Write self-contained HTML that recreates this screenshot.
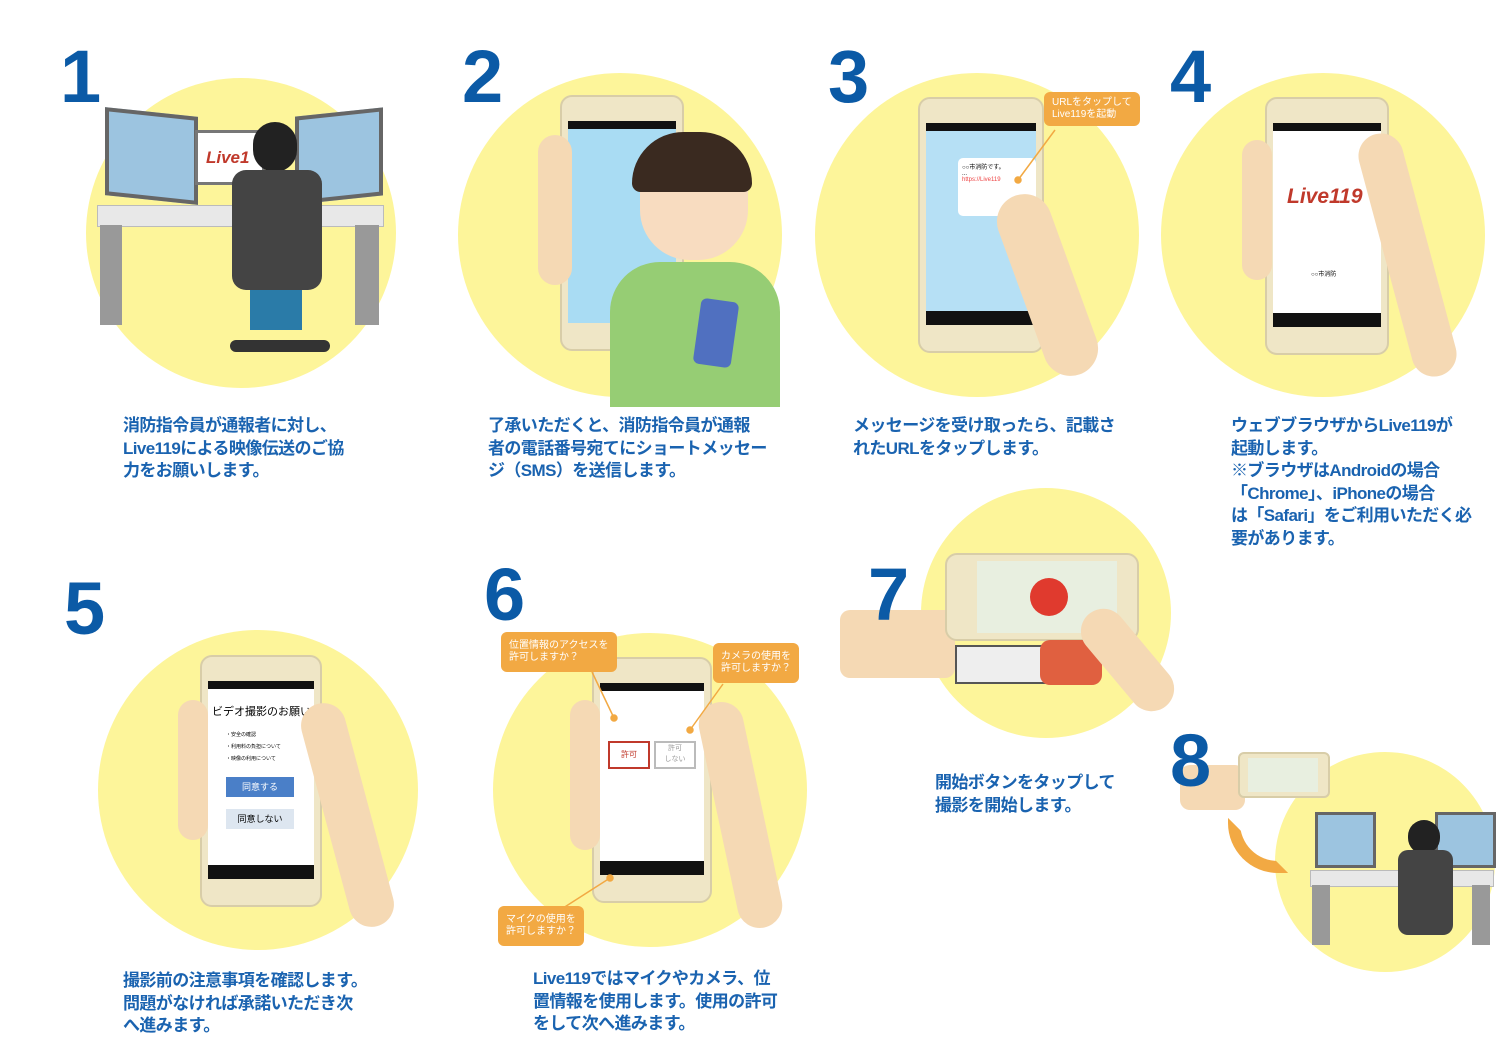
<!DOCTYPE html>
<html><head><meta charset="utf-8">
<style>
body{margin:0;width:1510px;height:1049px;background:#fff;position:relative;overflow:hidden;font-family:"Liberation Sans","Noto Sans CJK JP",sans-serif}
.n{position:absolute;font-weight:bold;color:#0b5aa6;font-size:74px;line-height:1;font-family:"Liberation Sans",sans-serif;z-index:5}
.c{position:absolute;border-radius:50%;background:#fdf59a}
.t{position:absolute;color:#1a63b0;font-weight:bold;font-size:17px;line-height:22.5px;letter-spacing:-0.6px;z-index:5}
.ph{position:absolute;background:#efe6c6;border:2px solid #d8cda8;border-radius:12px}
.sc{position:absolute;left:6px;right:6px;top:24px;bottom:26px;background:#fff}
.sb{position:absolute;left:0;right:0;top:0;height:8px;background:#111}
.nb{position:absolute;left:0;right:0;bottom:0;height:14px;background:#111}
.hand{position:absolute;background:#f5d9b4;border-radius:30px}
.bub{position:absolute;background:#f2a943;color:#fff;font-size:10px;line-height:12px;padding:5px 8px;border-radius:6px;z-index:4}
</style></head><body>
<div class="c" style="left:86px;top:78px;width:310px;height:310px"></div>
<div class="c" style="left:458px;top:73px;width:324px;height:324px"></div>
<div class="c" style="left:815px;top:73px;width:324px;height:324px"></div>
<div class="c" style="left:1161px;top:73px;width:324px;height:324px"></div>
<div class="c" style="left:98px;top:630px;width:320px;height:320px"></div>
<div class="c" style="left:493px;top:633px;width:314px;height:314px"></div>
<div class="c" style="left:921px;top:488px;width:250px;height:250px"></div>
<div class="c" style="left:1275px;top:752px;width:220px;height:220px"></div>

<div class="n" style="left:60px;top:40px">1</div>
<div class="n" style="left:462px;top:40px">2</div>
<div class="n" style="left:828px;top:40px">3</div>
<div class="n" style="left:1170px;top:40px">4</div>
<div class="n" style="left:64px;top:572px">5</div>
<div class="n" style="left:484px;top:558px">6</div>
<div class="n" style="left:868px;top:558px">7</div>
<div class="n" style="left:1170px;top:724px">8</div>

<!-- scene 1 -->
<div style="position:absolute;left:97px;top:205px;width:285px;height:20px;background:#e8e8e8;border:1px solid #bbb"></div>
<div style="position:absolute;left:100px;top:225px;width:22px;height:100px;background:#999"></div>
<div style="position:absolute;left:355px;top:225px;width:24px;height:100px;background:#999"></div>
<div style="position:absolute;left:105px;top:112px;width:85px;height:80px;background:#9cc4e0;border:4px solid #666;transform:skewY(6deg)"></div>
<div style="position:absolute;left:295px;top:112px;width:80px;height:80px;background:#9cc4e0;border:4px solid #666;transform:skewY(-6deg)"></div>
<div style="position:absolute;left:195px;top:130px;width:70px;height:55px;background:#fff;border:3px solid #777;color:#c0392b;font-weight:bold;font-style:italic;font-size:17px;padding:15px 0 0 8px;box-sizing:border-box">Live1</div>
<div style="position:absolute;left:253px;top:122px;width:44px;height:50px;background:#222;border-radius:22px"></div>
<div style="position:absolute;left:232px;top:170px;width:90px;height:120px;background:#444;border-radius:14px"></div>
<div style="position:absolute;left:250px;top:290px;width:52px;height:40px;background:#2a7ba8"></div>
<div style="position:absolute;left:230px;top:340px;width:100px;height:12px;background:#333;border-radius:6px"></div>

<!-- scene 2 -->
<div class="ph" style="left:560px;top:95px;width:120px;height:252px"><div class="sc" style="background:#a9dcf3"><div class="sb"></div></div></div>
<div class="hand" style="left:538px;top:135px;width:34px;height:150px"></div>
<div style="position:absolute;left:640px;top:140px;width:108px;height:120px;background:#f8dcc0;border-radius:50px"></div>
<div style="position:absolute;left:632px;top:132px;width:120px;height:60px;background:#3a2a20;border-radius:60px 60px 10px 10px"></div>
<div style="position:absolute;left:610px;top:262px;width:170px;height:145px;background:#96cd74;border-radius:50px 50px 0 0"></div>
<div style="position:absolute;left:697px;top:300px;width:38px;height:66px;background:#5070c0;border-radius:6px;transform:rotate(8deg)"></div>

<!-- scene 3 -->
<div class="ph" style="left:918px;top:97px;width:122px;height:252px"><div class="sc" style="background:#b6e0f5"><div class="sb"></div><div class="nb"></div>
<div style="position:absolute;left:32px;top:35px;width:70px;height:50px;background:#fff;border-radius:5px;font-size:6px;padding:4px">○○市消防です。<br>...<br><span style="color:#e44">https://Live119</span></div></div></div>
<div class="hand" style="left:1020px;top:190px;width:55px;height:190px;transform:rotate(-20deg)"></div>
<div class="bub" style="left:1044px;top:92px">URLをタップして<br>Live119を起動</div>

<!-- scene 4 -->
<div class="ph" style="left:1265px;top:97px;width:120px;height:254px"><div class="sc"><div class="sb"></div><div class="nb"></div>
<div style="position:absolute;left:14px;top:62px;color:#c0392b;font-weight:bold;font-style:italic;font-size:21px">Live119</div>
<div style="position:absolute;left:38px;top:146px;font-size:6px">○○市消防</div></div></div>
<div class="hand" style="left:1242px;top:140px;width:30px;height:140px"></div>
<div class="hand" style="left:1385px;top:130px;width:45px;height:250px;transform:rotate(-15deg)"></div>

<!-- scene 5 -->
<div class="ph" style="left:200px;top:655px;width:118px;height:248px"><div class="sc"><div class="sb"></div><div class="nb"></div>
<div style="position:absolute;left:4px;top:22px;font-size:11px">ビデオ撮影のお願い</div>
<div style="position:absolute;left:18px;top:48px;font-size:5px;line-height:12px">・安全の確認<br>・利用料の負担について<br>・映像の利用について</div>
<div style="position:absolute;left:18px;top:96px;width:68px;height:20px;background:#4a7fc8;color:#fff;font-size:9px;text-align:center;line-height:20px">同意する</div>
<div style="position:absolute;left:18px;top:128px;width:68px;height:20px;background:#dde6f0;font-size:9px;text-align:center;line-height:20px">同意しない</div></div></div>
<div class="hand" style="left:178px;top:700px;width:30px;height:140px"></div>
<div class="hand" style="left:325px;top:700px;width:45px;height:230px;transform:rotate(-15deg)"></div>

<!-- scene 6 -->
<div class="ph" style="left:592px;top:657px;width:116px;height:242px"><div class="sc"><div class="sb"></div><div class="nb"></div>
<div style="position:absolute;left:8px;top:58px;width:38px;height:24px;border:2px solid #c0392b;color:#c0392b;font-size:8px;text-align:center;line-height:24px">許可</div>
<div style="position:absolute;left:54px;top:58px;width:38px;height:24px;border:2px solid #bbb;color:#999;font-size:7px;text-align:center;line-height:11px">許可<br>しない</div></div></div>
<div class="hand" style="left:570px;top:700px;width:30px;height:150px"></div>
<div class="hand" style="left:718px;top:700px;width:45px;height:230px;transform:rotate(-12deg)"></div>
<div class="bub" style="left:501px;top:632px;padding:8px">位置情報のアクセスを<br>許可しますか？</div>
<div class="bub" style="left:713px;top:643px;padding:8px">カメラの使用を<br>許可しますか？</div>
<div class="bub" style="left:498px;top:906px;padding:8px">マイクの使用を<br>許可しますか？</div>
<svg style="position:absolute;left:0;top:0;z-index:3" width="1510" height="1049"><g stroke="#f2a943" stroke-width="1.5" fill="#f2a943"><line x1="592" y1="672" x2="614" y2="718"/><line x1="723" y1="684" x2="690" y2="730"/><line x1="560" y1="910" x2="610" y2="878"/><line x1="1055" y1="130" x2="1018" y2="180"/><circle cx="614" cy="718" r="3"/><circle cx="690" cy="730" r="3"/><circle cx="610" cy="878" r="3"/><circle cx="1018" cy="180" r="3"/></g></svg>

<!-- scene 7 -->
<div class="hand" style="left:840px;top:610px;width:115px;height:68px;border-radius:10px"></div>
<div class="ph" style="left:945px;top:553px;width:190px;height:84px"><div style="position:absolute;left:30px;top:6px;right:20px;bottom:6px;background:#e8efe0"></div></div>
<div style="position:absolute;left:1030px;top:578px;width:38px;height:38px;border-radius:50%;background:#e03a2e"></div>
<div style="position:absolute;left:955px;top:645px;width:100px;height:35px;background:#eee;border:2px solid #555"></div>
<div style="position:absolute;left:1040px;top:640px;width:62px;height:45px;background:#e06040;border-radius:10px"></div>
<div class="hand" style="left:1105px;top:600px;width:45px;height:120px;transform:rotate(-40deg)"></div>

<!-- scene 8 -->
<div class="hand" style="left:1180px;top:765px;width:65px;height:45px;border-radius:10px"></div>
<div class="ph" style="left:1238px;top:752px;width:88px;height:42px;border-radius:6px"><div style="position:absolute;left:8px;top:4px;right:10px;bottom:4px;background:#e8efe0"></div></div>
<div style="position:absolute;left:1228px;top:818px;width:60px;height:55px;border:12px solid #f2a943;border-color:transparent transparent #f2a943 #f2a943;border-radius:0 0 0 50px;box-sizing:border-box"></div>
<div style="position:absolute;left:1310px;top:870px;width:182px;height:15px;background:#e8e8e8;border:1px solid #bbb"></div>
<div style="position:absolute;left:1312px;top:885px;width:18px;height:60px;background:#999"></div>
<div style="position:absolute;left:1472px;top:885px;width:18px;height:60px;background:#999"></div>
<div style="position:absolute;left:1315px;top:812px;width:55px;height:50px;background:#9cc4e0;border:3px solid #666"></div>
<div style="position:absolute;left:1435px;top:812px;width:55px;height:50px;background:#9cc4e0;border:3px solid #666"></div>
<div style="position:absolute;left:1408px;top:820px;width:32px;height:34px;background:#222;border-radius:16px"></div>
<div style="position:absolute;left:1398px;top:850px;width:55px;height:85px;background:#444;border-radius:10px"></div>

<div class="t" style="left:123px;top:415px">消防指令員が通報者に対し、<br>Live119による映像伝送のご協<br>力をお願いします。</div>
<div class="t" style="left:488px;top:415px">了承いただくと、消防指令員が通報<br>者の電話番号宛てにショートメッセー<br>ジ（SMS）を送信します。</div>
<div class="t" style="left:853px;top:415px">メッセージを受け取ったら、記載さ<br>れたURLをタップします。</div>
<div class="t" style="left:1231px;top:415px">ウェブブラウザからLive119が<br>起動します。<br>※ブラウザはAndroidの場合<br>「Chrome」、iPhoneの場合<br>は「Safari」をご利用いただく必<br>要があります。</div>
<div class="t" style="left:935px;top:772px">開始ボタンをタップして<br>撮影を開始します。</div>
<div class="t" style="left:123px;top:970px">撮影前の注意事項を確認します。<br>問題がなければ承諾いただき次<br>へ進みます。</div>
<div class="t" style="left:533px;top:968px">Live119ではマイクやカメラ、位<br>置情報を使用します。使用の許可<br>をして次へ進みます。</div>
</body></html>
